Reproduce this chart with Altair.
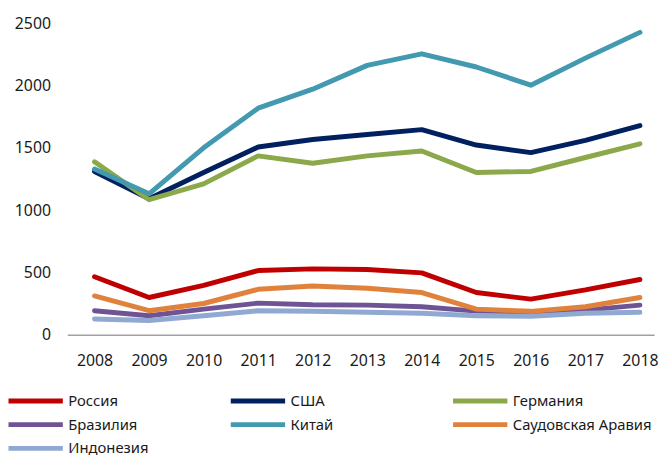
import altair as alt
import pandas as pd

years = list(range(2008, 2019))
series_names = ["Россия", "США", "Германия", "Бразилия", "Китай", "Саудовская Аравия", "Индонезия"]
colors = ["#C00000", "#002060", "#8BA84A", "#6F5495", "#4299B0", "#E0823C", "#8FA9D2"]

russia = [466, 299, 397, 516, 529, 524, 497, 339, 286, 360, 444]
usa = [1312, 1093, 1304, 1508, 1569, 1608, 1648, 1524, 1463, 1561, 1680]
germany = [1389, 1085, 1212, 1437, 1378, 1437, 1476, 1304, 1312, 1424, 1534]
brazil = [193, 153, 206, 254, 241, 238, 225, 190, 185, 198, 238]
china = [1331, 1132, 1502, 1820, 1973, 2164, 2257, 2151, 2005, 2222, 2429]
saudi = [312, 193, 251, 365, 392, 373, 339, 206, 188, 225, 299]
indonesia = [127, 114, 153, 193, 188, 180, 172, 153, 148, 172, 180]

y_ticks = [0, 500, 1000, 1500, 2000, 2500]

all_series = [russia, usa, germany, brazil, china, saudi, indonesia]
rows = []
for i, (name, vals) in enumerate(zip(series_names, all_series)):
    for yr, v in zip(years, vals):
        rows.append({"year": yr, "value": v, "series": name, "order": i})
df = pd.DataFrame(rows)

chart = (
    alt.Chart(df)
    .mark_line(strokeWidth=5, strokeCap="round", strokeJoin="round")
    .encode(
        x=alt.X(
            "year:Q",
            scale=alt.Scale(domain=[2007.5, 2018.26], nice=False, zero=False),
            axis=alt.Axis(
                values=years,
                format="d",
                title=None,
                ticks=False,
                grid=False,
                domainColor="#A0A0A0",
                domainWidth=1.5,
                labelFont="Noto Sans",
                labelFontSize=16,
                labelColor="#1a1a1a",
                labelPadding=18,
                labelOverlap=False,
                labelFlush=False,
            ),
        ),
        y=alt.Y(
            "value:Q",
            scale=alt.Scale(domain=[0, 2500], nice=False),
            axis=alt.Axis(
                values=y_ticks,
                format="d",
                title=None,
                ticks=False,
                grid=False,
                domain=False,
                labelFont="Noto Sans",
                labelFontSize=16,
                labelColor="#1a1a1a",
                labelPadding=17,
            ),
        ),
        color=alt.Color(
            "series:N",
            scale=alt.Scale(domain=series_names, range=colors),
            legend=alt.Legend(
                orient="none",
                direction="horizontal",
                legendX=-40,
                legendY=374,
                columns=3,
                columnPadding=13,
                gridAlign="all",
                symbolType="M-5,0H5",
                symbolSize=121,
                symbolStrokeWidth=5,
                symbolFillColor="transparent",
                labelFont="Noto Sans",
                labelFontSize=15,
                labelColor="#1a1a1a",
                labelOffset=25,
                rowPadding=4,
                padding=0,
                title=None,
            ),
        ),
        order=alt.Order("order:Q"),
    )
    .properties(
        width=594,
        height=315,
        padding={"left": 60, "top": 13, "right": 8, "bottom": 120},
        autosize=alt.AutoSizeParams(type="none"),
    )
    .configure_view(stroke=None)
)

chart.save("out.html", embed_options={"renderer": "svg", "actions": False})
